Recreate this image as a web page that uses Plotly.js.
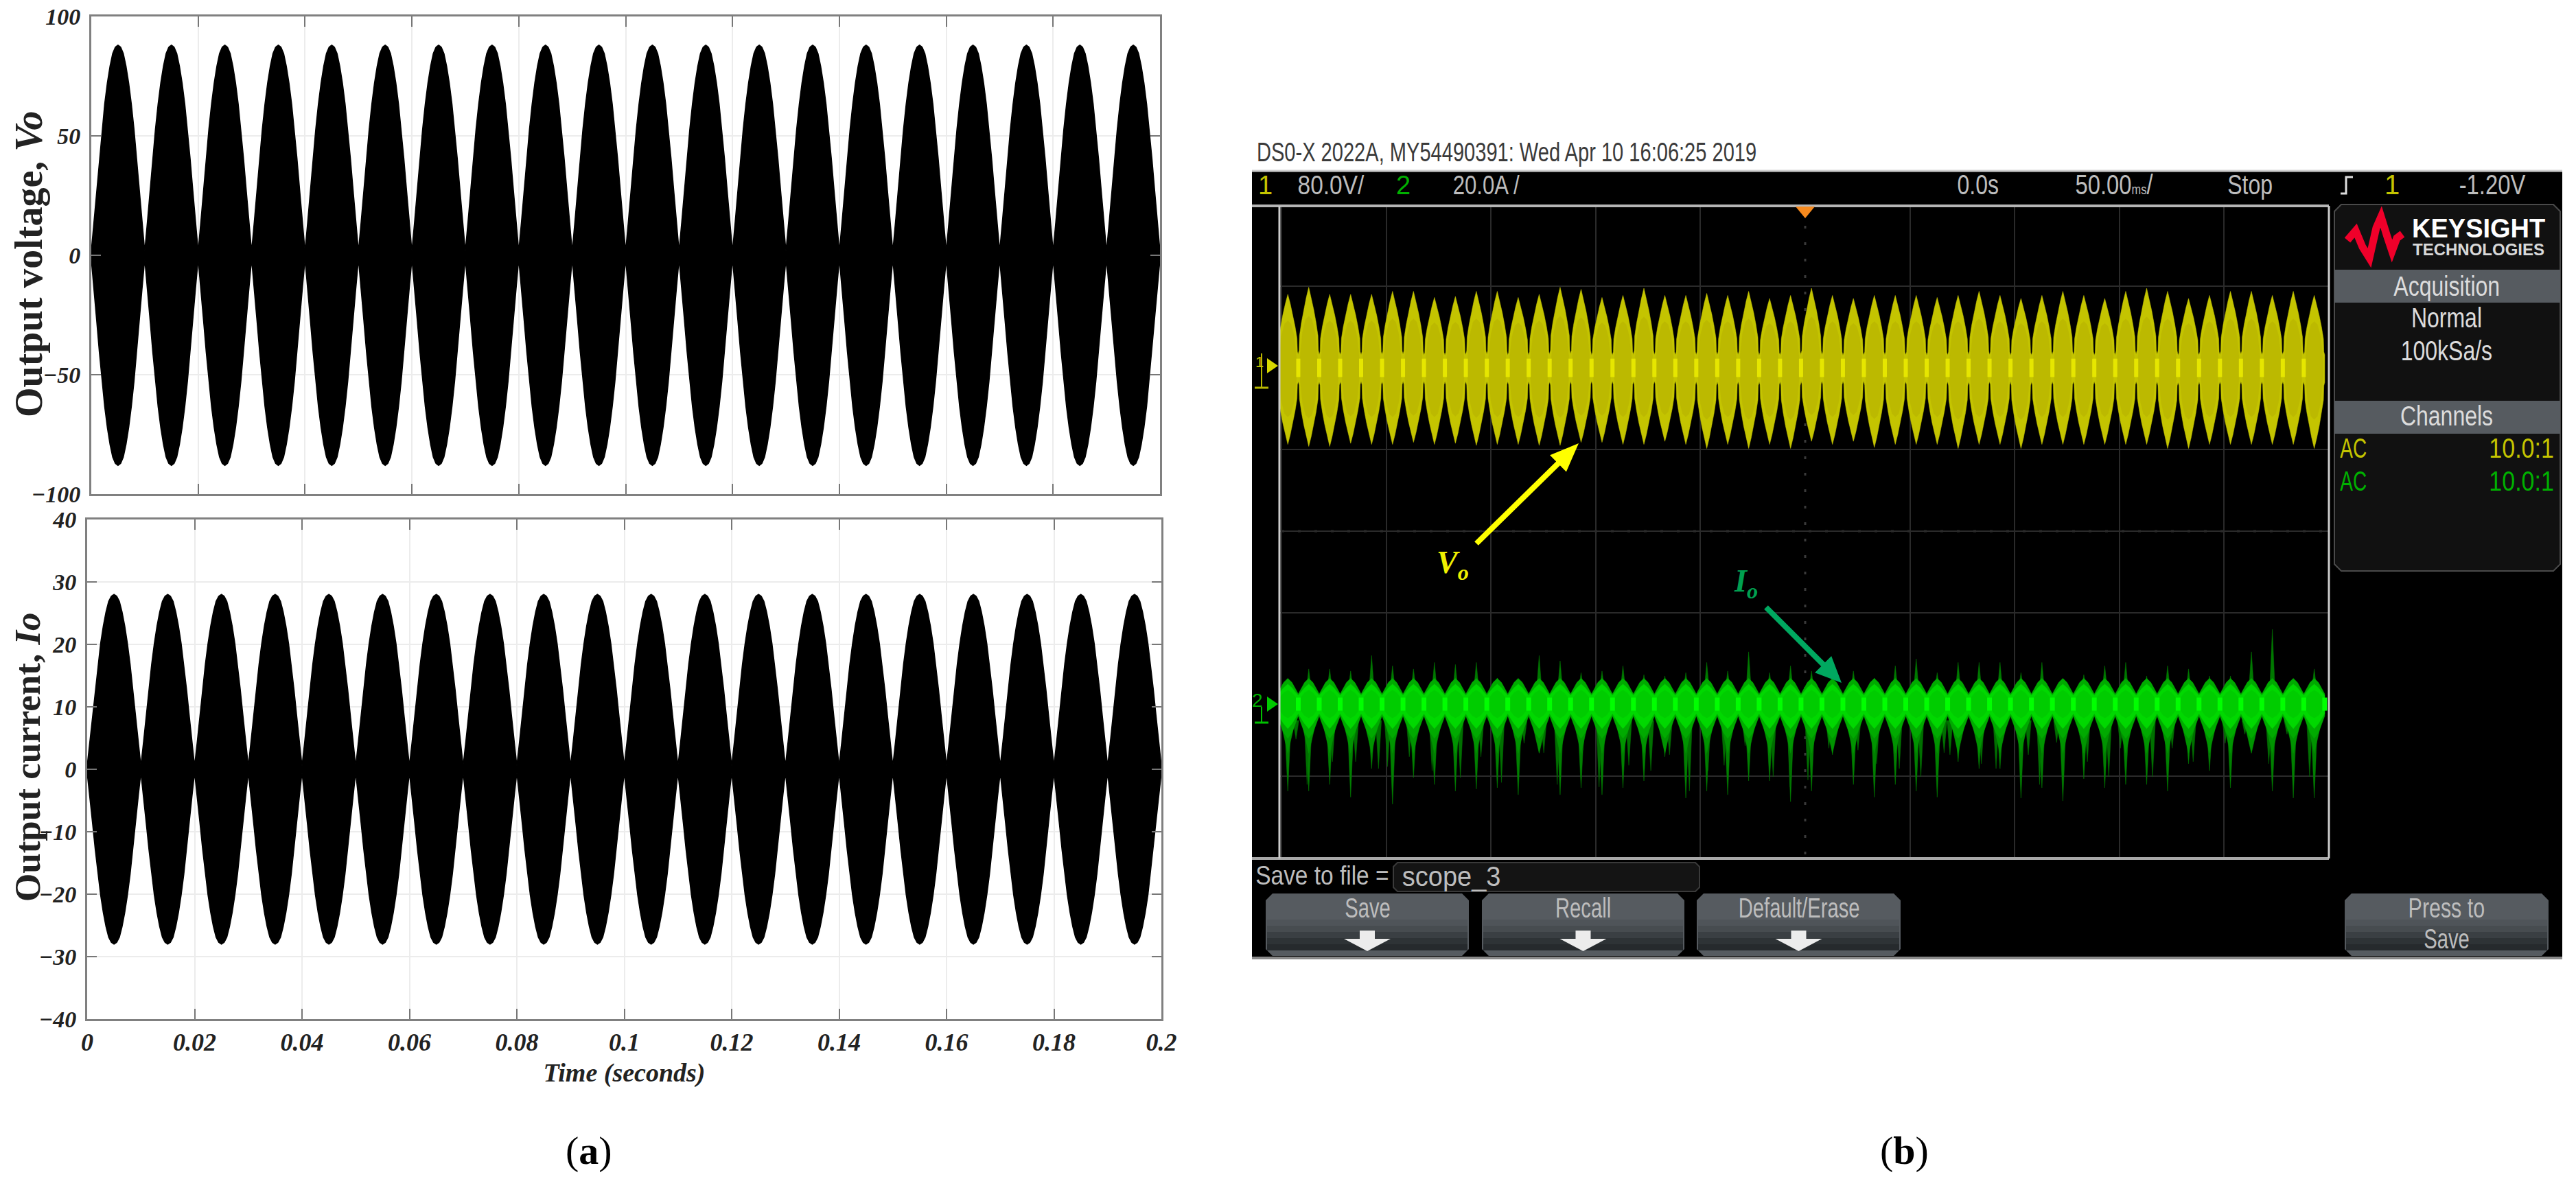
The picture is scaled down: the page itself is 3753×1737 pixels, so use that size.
<!DOCTYPE html>
<html>
<head>
<meta charset="utf-8">
<script src="https://cdn.plot.ly/plotly-3.0.1.min.js"></script>
<style>
  html, body { margin: 0; padding: 0; background: #fff; }
  #chart { width: 3753px; height: 1737px; }
</style>
</head>
<body>
<div id="chart"></div>
<script>
const W = 3753, H = 1737;

// panel (a): simulated waveforms, one lobe every 10 ms
const simLobeTimes = [0.005,0.015,0.025,0.035,0.045,0.055,0.065,0.075,0.085,0.095,0.105,0.115,0.125,0.135,0.145,0.155,0.165,0.175,0.185,0.195];
const voPeaks = [88,88,88,88,88,88,88,88,88,88,88,88,88,88,88,88,88,88,88,88];
const ioPeaks = [28,28,28,28,28,28,28,28,28,28,28,28,28,28,28,28,28,28,28,28];
const simLobeOffsets = [-0.005,-0.0045,-0.004,-0.0035,-0.003,-0.0025,-0.002,-0.0015,-0.001,-0.0005,0,0.0005,0.001,0.0015,0.002,0.0025,0.003,0.0035,0.004,0.0045,0.005];
const simLobeLevels = [0.02,0.16,0.31,0.46,0.6,0.72,0.82,0.9,0.96,0.99,1,0.99,0.96,0.9,0.82,0.72,0.6,0.46,0.31,0.16,0.02];
const simXTicks = [0,0.02,0.04,0.06,0.08,0.1,0.12,0.14,0.16,0.18,0.2];
const simXLabels = ['0','0.02','0.04','0.06','0.08','0.1','0.12','0.14','0.16','0.18','0.2'];
const voTicks = [-100,-50,0,50,100];
const ioTicks = [-40,-30,-20,-10,0,10,20,30,40];

// panel (b): scope capture, time in ms from the trigger
const scopeLobeTimes = [-247,-237,-227,-217,-207,-197,-187,-177,-167,-157,-147,-137,-127,-117,-107,-97,-87,-77,-67,-57,-47,-37,-27,-17,-7,3,13,23,33,43,53,63,73,83,93,103,113,123,133,143,153,163,173,183,193,203,213,223,233,243];
const vScopeTop = [72,79,72,72,72,75,75,69,70,75,75,69,72,79,77,69,71,78,71,71,73,71,75,68,71,78,71,68,71,71,71,69,71,75,71,68,71,75,71,68,75,78,75,68,71,75,75,71,75,71];
const vScopeBottom = [75,77,77,74,75,75,73,75,74,76,75,75,76,76,73,73,75,75,72,75,79,75,79,75,79,72,75,72,78,75,75,75,79,75,75,79,75,75,75,75,75,75,79,79,75,75,75,75,75,79];
const vShapeOffsets = [-5,-4.6,-4.4,-3.5,-2.4,-1.2,0,1.2,2.4,3.5,4.4,4.6,5];
const vShapeLevels = [0.18,0.22,0.4,0.56,0.72,0.87,1,0.87,0.72,0.56,0.4,0.22,0.18];
const vInnerOffsets = [-4.2,-3,-1.5,0,1.5,3,4.2];
const vInnerLevels = [0.12,0.44,0.6,0.64,0.6,0.44,0.12];

const iSpikeUp = [6,8.6,8.6,8.1,11.9,9.4,8.6,10.2,9.7,10.2,6.4,6,11.9,10.6,7.7,8.1,9.4,7.2,6.9,7.7,10.2,8.1,12.8,7.7,9.4,8.1,5.7,8.1,6.4,9.4,11.1,7.7,10.2,10.2,10.2,7.7,10.2,6,7.2,9.4,10.2,6.9,9.4,8.6,6.9,6.9,12.8,18.3,5.5,8.6];
const iSpikeDown = [21.3,21.3,19.7,22.8,15.8,24.5,18,19.7,21.3,20.8,20.5,22.2,11.9,22.2,20.5,22.2,20.5,18.8,12.9,23,21.3,22.2,18.8,18.8,23.9,21.3,12.4,19.7,22.8,19.7,21.3,22.8,14.1,15.8,15.8,23,20.5,23.7,18.3,20.5,19.7,19.7,21.3,14.6,16.3,20.5,10.8,21.3,23,23];
const iSpike2Down = [8.6,19.7,14.1,14.1,15.8,15.3,12.9,16.3,18,12.9,19.2,9.6,11.9,19.7,11.3,20.3,15,16.3,12.4,21.3,16.3,15,10.2,17.8,20.3,18.6,10.8,11.3,14.6,15.8,17.8,11.9,12.4,14.6,15.8,12.4,19.7,9.4,14.1,17.8,10.8,17.8,10.8,14.1,12.4,9.6,7.4,14.6,7.4,17.8];
const iSpike2Shift = [3.9,-0.8,1.3,2.4,3.3,-2.4,-2,-1.1,2.4,2.2,2,2.8,2.2,-1.4,0.9,-1.4,2.8,3.3,2.2,1.7,0.6,-1.7,-1.7,1.7,-0.2,-1.7,-1.7,2.2,1.1,1.9,2.2,3.3,-3.9,1.1,-1.9,3.5,-1.1,-3,1.7,1.9,-2.5,2.8,2.2,2.2,0,-2.5,-3.1,-1.7,-3,-2.2];
const iBodyOffsets = [-5,-3.5,-2,0,2,3.5,5];
const iFringeUpLevels = [2.5,3.9,5.3,6.3,5.3,3.9,2.5];
const iFringeDownLevels = [2.9,5,7,8.4,7,5,2.9];
const iBodyUpLevels = [2.1,3,4,4.9,4,3,2.1];
const iBodyDownLevels = [2.3,3.6,4.8,6,4.8,3.6,2.3];
const iCoreLevels = [0.8,1.8,2.8,3.4,2.8,1.8,0.8];
const iSkirtDown = 12;

const scopeXGrid = [-250,-200,-150,-100,-50,50,100,150,200];
const scopeVGrid = [80,-80,-160,-240,-400];
const scopeYRangeV = [-480.7,158.7];
const scopeYRangeI = [-37.8,122];

const X = px => px / W;
const Y = py => 1 - py / H;

function envelope(times, tops, bottoms, offsets, levels) {
  const xs = [], ys = [];
  times.forEach((t, k) => offsets.forEach((o, j) => { xs.push(t + o); ys.push(tops[k] * levels[j]); }));
  for (let k = times.length - 1; k >= 0; k--) {
    for (let j = offsets.length - 1; j >= 0; j--) {
      xs.push(times[k] + offsets[j]);
      ys.push(-bottoms[k] * levels[j]);
    }
  }
  return { x: xs, y: ys };
}

function wedges(times, shifts, bases, tips, halfWidth) {
  const xs = [], ys = [];
  times.forEach((t, k) => {
    const c = t + shifts[k];
    xs.push(c - halfWidth, c, c + halfWidth, null);
    ys.push(bases, tips[k], bases, null);
  });
  return { x: xs, y: ys };
}

function lobeIslands(times, offsets, upper, lower) {
  const xs = [], ys = [];
  times.forEach(t => {
    offsets.forEach((o, j) => { xs.push(t + o); ys.push(upper[j]); });
    for (let j = offsets.length - 1; j >= 0; j--) { xs.push(t + offsets[j]); ys.push(-lower[j]); }
    xs.push(null); ys.push(null);
  });
  return { x: xs, y: ys };
}

function filled(d, color, xa, ya, width) {
  return { x: d.x, y: d.y, xaxis: xa, yaxis: ya, mode: 'lines', fill: 'toself', fillcolor: color,
    line: { color: color, width: width === undefined ? 0.5 : width }, hoverinfo: 'skip', showlegend: false };
}

const zeros = scopeLobeTimes.map(() => 0);
const neg = a => a.map(v => -v);

const vo = envelope(simLobeTimes, voPeaks, voPeaks, simLobeOffsets, simLobeLevels);
const io = envelope(simLobeTimes, ioPeaks, ioPeaks, simLobeOffsets, simLobeLevels);
const vOuter = envelope(scopeLobeTimes, vScopeTop, vScopeBottom, vShapeOffsets, vShapeLevels);

const vInner = { x: [], y: [] };
scopeLobeTimes.forEach((t, k) => {
  vInnerOffsets.forEach((o, j) => { vInner.x.push(t + o); vInner.y.push(vScopeTop[k] * vInnerLevels[j]); });
  for (let j = vInnerOffsets.length - 1; j >= 0; j--) { vInner.x.push(t + vInnerOffsets[j]); vInner.y.push(-vScopeBottom[k] * vInnerLevels[j]); }
  vInner.x.push(null); vInner.y.push(null);
});

const vWaist = { x: [], y: [] };
scopeLobeTimes.slice(0, -1).forEach(t => { vWaist.x.push(t + 5, t + 5, null); vWaist.y.push(-9, 9, null); });

const iWaist = { x: [], y: [] };
scopeLobeTimes.forEach(t => { iWaist.x.push(t + 5, t + 5, null); iWaist.y.push(-1.6, 1.6, null); });

const traces = [
  filled(vo, '#000000', 'x', 'y', 1.5),
  filled(io, '#000000', 'x2', 'y2', 1.5),
  filled(vOuter, '#c4c400', 'x3', 'y3'),
  filled(vInner, '#bcb900', 'x3', 'y3'),
  { x: vWaist.x, y: vWaist.y, xaxis: 'x3', yaxis: 'y3', mode: 'lines', line: { color: '#e6e600', width: 6 }, hoverinfo: 'skip', showlegend: false },
  filled(wedges(scopeLobeTimes, zeros, -4, neg(iSpikeDown), 1.6), '#008000', 'x3', 'y4', 0.5),
  filled(wedges(scopeLobeTimes, iSpike2Shift, -4, neg(iSpike2Down), 1.4), '#007000', 'x3', 'y4', 0.5),
  filled(wedges(scopeLobeTimes, zeros, 3, iSpikeUp, 1.3), '#007800', 'x3', 'y4', 0.5),
  filled(wedges(scopeLobeTimes, zeros, -4, scopeLobeTimes.map(() => -iSkirtDown), 3.6), '#009400', 'x3', 'y4', 0.5),
  filled(lobeIslands(scopeLobeTimes, iBodyOffsets, iFringeUpLevels, iFringeDownLevels), '#00aa00', 'x3', 'y4', 0.5),
  filled(lobeIslands(scopeLobeTimes, iBodyOffsets, iBodyUpLevels, iBodyDownLevels), '#00d800', 'x3', 'y4', 0.5),
  filled(lobeIslands(scopeLobeTimes, iBodyOffsets, iCoreLevels, iCoreLevels), '#00cc00', 'x3', 'y4', 0.5),
  { x: iWaist.x, y: iWaist.y, xaxis: 'x3', yaxis: 'y4', mode: 'lines', line: { color: '#00ff00', width: 7 }, hoverinfo: 'skip', showlegend: false }
];

const serif = 'Liberation Serif, serif';
const sans = 'Liberation Sans, sans-serif';

const simX = {
  range: [0, 0.2], tickmode: 'array', tickvals: simXTicks, ticktext: simXLabels, ticks: 'inside', ticklen: 15, tickwidth: 2, tickcolor: '#777',
  showgrid: true, gridcolor: '#ececec', gridwidth: 2, zeroline: false, showline: true, linecolor: '#808080', linewidth: 3, mirror: 'ticks',
  tickfont: { family: serif, size: 36, color: '#222', weight: 'bold', style: 'italic' }
};
const simY = {
  tickmode: 'array', ticks: 'inside', ticklen: 14, tickwidth: 2, tickcolor: '#777', showgrid: true, gridcolor: '#ececec', gridwidth: 2, zeroline: false,
  showline: true, linecolor: '#808080', linewidth: 3, mirror: 'ticks', ticklabelstandoff: 6,
  tickfont: { family: serif, size: 34, color: '#222', weight: 'bold', style: 'italic' }
};

const layout = {
  width: W, height: H, margin: { l: 0, r: 0, t: 0, b: 0 }, paper_bgcolor: '#fff', plot_bgcolor: 'rgba(0,0,0,0)', showlegend: false,
  xaxis: Object.assign({}, simX, { domain: [X(133), X(1690)], anchor: 'y', showticklabels: false }),
  yaxis: Object.assign({}, simY, { domain: [Y(720), Y(24)], range: [-100, 100], tickvals: voTicks, anchor: 'x' }),
  xaxis2: Object.assign({}, simX, { domain: [X(127), X(1692)], anchor: 'y2',
    title: { text: 'Time (seconds)', standoff: 12, font: { family: serif, size: 38, color: '#222', weight: 'bold', style: 'italic' } } }),
  yaxis2: Object.assign({}, simY, { domain: [Y(1485), Y(757)], range: [-40, 40], tickvals: ioTicks, anchor: 'x2' }),
  xaxis3: { domain: [X(1864), X(3393)], range: [-251, 250], anchor: 'y3', tickmode: 'array', tickvals: scopeXGrid, showticklabels: false, ticks: '',
    showgrid: true, gridcolor: '#2a2a2a', gridwidth: 2, zeroline: false, showline: false },
  yaxis3: { domain: [Y(1251), Y(300)], range: scopeYRangeV, anchor: 'x3', tickmode: 'array', tickvals: scopeVGrid, showticklabels: false, ticks: '',
    showgrid: true, gridcolor: '#2a2a2a', gridwidth: 2, zeroline: false, showline: false },
  yaxis4: { domain: [Y(1251), Y(300)], range: scopeYRangeI, anchor: 'x3', overlaying: 'y3', side: 'right', showticklabels: false, ticks: '',
    showgrid: false, zeroline: false, showline: false },
  shapes: [],
  annotations: []
};

// scope screen furniture
function rect(x0, y0, x1, y1, fill, line, lineW, layer) {
  layout.shapes.push({ type: 'rect', xref: 'paper', yref: 'paper', x0: X(x0), x1: X(x1), y0: Y(y1), y1: Y(y0), fillcolor: fill,
    line: { color: line || fill, width: line ? (lineW || 1) : 0 }, layer: layer || 'below' });
}
function vline(x, y0, y1, color, w, dash, layer) {
  layout.shapes.push({ type: 'line', xref: 'paper', yref: 'paper', x0: X(x), x1: X(x), y0: Y(y1), y1: Y(y0), line: { color: color, width: w, dash: dash || 'solid' }, layer: layer || 'below' });
}
function hline(x0, x1, y, color, w, dash, layer) {
  layout.shapes.push({ type: 'line', xref: 'paper', yref: 'paper', x0: X(x0), x1: X(x1), y0: Y(y), y1: Y(y), line: { color: color, width: w, dash: dash || 'solid' }, layer: layer || 'below' });
}
function poly(pts, fill, line, lineW, closed, layer) {
  const d = pts.map((p, i) => (i ? 'L' : 'M') + X(p[0]).toFixed(5) + ',' + Y(p[1]).toFixed(5)).join(' ') + (closed === false ? '' : ' Z');
  layout.shapes.push({ type: 'path', xref: 'paper', yref: 'paper', path: d, fillcolor: fill || 'rgba(0,0,0,0)', line: { color: line || fill, width: line ? lineW : 0 }, layer: layer || 'below' });
}
function chamfer(x0, y0, x1, y1, r) {
  return [[x0 + r, y0], [x1 - r, y0], [x1, y0 + r], [x1, y1 - r], [x1 - r, y1], [x0 + r, y1], [x0, y1 - r], [x0, y0 + r]];
}
function arrow(x0, y0, x1, y1, color, w, headLen, headW) {
  const len = Math.hypot(x1 - x0, y1 - y0), ux = (x1 - x0) / len, uy = (y1 - y0) / len, bx = x1 - ux * headLen, by = y1 - uy * headLen;
  poly([[x0 - uy * w, y0 + ux * w], [bx - uy * w, by + ux * w], [bx - uy * headW, by + ux * headW], [x1, y1],
    [bx + uy * headW, by - ux * headW], [bx + uy * w, by - ux * w], [x0 + uy * w, y0 - ux * w]], color, null, 0, true, 'above');
}

// no narrow font here, so squeeze is applied to the svg text after plotting
const squeezes = [];
function label(x, y, text, size, color, squeeze, extra) {
  layout.annotations.push(Object.assign({ xref: 'paper', yref: 'paper', x: X(x), y: Y(y), text: text, showarrow: false, xanchor: 'center', yanchor: 'middle',
    font: Object.assign({ family: sans, size: size, color: color }, extra || {}) }));
  squeezes.push(squeeze || 1);
}

rect(1824, 250, 3733, 1396, '#000000');
hline(1824, 3733, 249, '#cfcfcf', 3);
hline(1824, 3733, 1396, '#8a8a8a', 4);
hline(1824, 3393, 300, '#b5b5b5', 4, 'solid', 'above');
hline(1824, 3393, 1251, '#a8a8a8', 4, 'solid', 'above');
vline(1864, 300, 1251, '#cccccc', 3, 'solid', 'above');
vline(3393, 300, 1251, '#cccccc', 3, 'solid', 'above');
vline(2630, 320, 1245, '#3a3a3a', 3, '4px,20px');
hline(1867, 3390, 774, '#3a3a3a', 3, '4px,20px');
poly([[2616, 301], [2644, 301], [2630, 318]], '#f78a1e', null, 0, true, 'above');

// acquisition side panel
poly(chamfer(3401, 298, 3730, 832, 10), '#111111', '#4a4a4a', 2);
rect(3401, 393, 3730, 441, '#565b60');
rect(3401, 584, 3730, 632, '#565b60');
poly([[3420, 350], [3432, 336], [3442, 360], [3452, 376], [3462, 332], [3469, 316], [3478, 345], [3485, 366], [3492, 347], [3500, 341]], null, '#f0002a', 11, false);

// soft keys, darker towards the bottom
const softKeys = [[1844, 2140], [2159, 2454], [2472, 2769], [3416, 3713]];
const softKeyBands = ['#565b60', '#4f5459', '#474c50', '#3a3f43', '#2e3336', '#262a2d'];
softKeys.forEach(k => {
  poly(chamfer(k[0], 1302, k[1], 1393, 10), softKeyBands[0]);
  softKeyBands.slice(1).forEach((c, i) => rect(k[0] + 2, 1340 + i * 9, k[1] - 2, 1349 + i * 9, c));
});
softKeys.slice(0, 3).forEach(k => {
  const c = (k[0] + k[1]) / 2;
  poly([[c - 11, 1356], [c + 11, 1356], [c + 11, 1368], [c + 34, 1368], [c, 1386], [c - 34, 1368], [c - 11, 1368]], '#ececec');
});
poly(chamfer(2030, 1257, 2476, 1299, 6), '#141414', '#3a3a3a', 2);

// channel markers at the left of the screen
poly([[1846, 522], [1862, 533], [1846, 544]], '#d8d800', null, 0, true, 'above');
vline(1838, 515, 565, '#b8b800', 2, 'solid', 'above');
hline(1828, 1848, 565, '#b8b800', 3, 'solid', 'above');
poly([[1846, 1015], [1862, 1026], [1846, 1037]], '#00c800', null, 0, true, 'above');
hline(1828, 1848, 1053, '#00c000', 3, 'solid', 'above');
vline(1838, 1030, 1053, '#00c000', 2, 'solid', 'above');
// trigger edge symbol
poly([[3410, 282], [3418, 282], [3418, 258], [3428, 258]], null, '#dddddd', 3, false);

arrow(2151, 792, 2300, 646, '#ffff00', 4, 42, 17);
arrow(2573, 885, 2683, 995, '#00a860', 4, 38, 17);

const gray = '#bdbdbd', yellow = '#c4c400', green = '#00b000', white = '#dcdcdc';
label(2195, 222, 'DS0-X 2022A, MY54490391: Wed Apr 10 16:06:25 2019', 38, '#3a3a3a', 0.765);
label(1843, 270, '1', 38, yellow);
label(1939, 270, '80.0V/', 38, gray, 0.88);
label(2044, 270, '2', 38, green);
label(2165, 270, '20.0A /', 38, gray, 0.82);
label(2882, 269, '0.0s', 40, gray, 0.8);
label(3080, 269, '50.00<span style="font-size:20px">ms</span>/', 40, gray, 0.82);
label(3278, 269, 'Stop', 40, gray, 0.8);
label(3485, 269, '1', 40, yellow);
label(3631, 269, '-1.20V', 40, gray, 0.82);
label(3611, 333, 'KEYSIGHT', 38, '#ffffff', 1, { weight: 'bold' });
label(3611, 364, 'TECHNOLOGIES', 24, '#d8d8d8', 1, { weight: 'bold' });
label(3564, 417, 'Acquisition', 40, white, 0.8);
label(3564, 463, 'Normal', 40, white, 0.8);
label(3564, 511, '100kSa/s', 40, white, 0.8);
label(3564, 606, 'Channels', 40, white, 0.8);
label(3429, 653, 'AC', 40, yellow, 0.7);
label(3673, 653, '10.0:1', 40, yellow, 0.85);
label(3429, 701, 'AC', 40, green, 0.7);
label(3673, 701, '10.0:1', 40, green, 0.85);
label(1926, 1276, 'Save to file =', 38, gray, 0.88);
label(2114, 1277, 'scope_3', 40, gray, 0.95);
['Save', 'Recall', 'Default/Erase'].forEach((t, i) => label((softKeys[i][0] + softKeys[i][1]) / 2, 1323, t, 40, gray, 0.73));
label((softKeys[3][0] + softKeys[3][1]) / 2, 1323, 'Press to', 40, gray, 0.76);
label((softKeys[3][0] + softKeys[3][1]) / 2, 1368, 'Save', 40, gray, 0.73);
label(1835, 527, '1', 22, yellow);
label(1832, 1020, '2', 28, green);

label(2116, 823, '<b><i>V</i></b><sub><b><i>o</i></b></sub>', 46, '#f0f000', 1, { family: serif });
label(2543, 850, '<b><i>I</i></b><sub><b><i>o</i></b></sub>', 46, '#00a050', 1, { family: serif });
label(858, 1676, '(<b>a</b>)', 58, '#000', 1, { family: serif });
label(2774, 1676, '(<b>b</b>)', 58, '#000', 1, { family: serif });

layout.annotations.push(
  { xref: 'paper', yref: 'paper', x: X(42), y: Y(385), text: 'Output voltage, <i>Vo</i>', textangle: -90, showarrow: false, xanchor: 'center', yanchor: 'middle',
    font: { family: serif, size: 56, color: '#222', weight: 'bold' } },
  { xref: 'paper', yref: 'paper', x: X(40), y: Y(1103), text: 'Output current, <i>Io</i>', textangle: -90, showarrow: false, xanchor: 'center', yanchor: 'middle',
    font: { family: serif, size: 53, color: '#222', weight: 'bold' } }
);

Plotly.newPlot('chart', traces, layout, { staticPlot: true }).then(gd => {
  squeezes.forEach((s, i) => {
    if (s === 1) return;
    const t = gd.querySelector('g.annotation[data-index="' + i + '"] text.annotation-text');
    if (!t) return;
    const bb = t.getBBox(), cx = bb.x + bb.width / 2;
    t.setAttribute('transform', 'translate(' + cx + ',0) scale(' + s + ',1) translate(' + (-cx) + ',0)');
  });
});
</script>
</body>
</html>
